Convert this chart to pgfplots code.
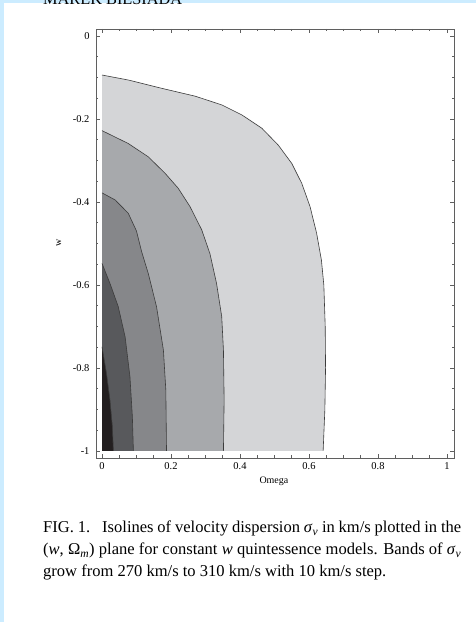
\documentclass[border=0pt]{standalone}
\usepackage{fontspec}
\setmainfont{Liberation Serif}
\usepackage{graphicx}
\usepackage{pgfplots}
\pgfplotsset{compat=1.18}

\definecolor{bandA}{RGB}{212,213,215}
\definecolor{bandB}{RGB}{167,169,172}
\definecolor{bandC}{RGB}{134,135,138}
\definecolor{bandD}{RGB}{88,89,92}
\definecolor{bandE}{RGB}{35,31,32}
\definecolor{isoline}{RGB}{60,60,60}
\definecolor{framegray}{RGB}{95,95,95}
\definecolor{pageblue}{RGB}{204,236,255}

\begin{document}
\begin{tikzpicture}
\useasboundingbox (0,0) rectangle (476bp,622bp);
\fill[white] (0,0) rectangle (476bp,622bp);
\fill[pageblue] (0,0) rectangle (4bp,622bp);
\fill[pageblue] (0,619bp) rectangle (476bp,622bp);
% running head, cut off by the page edge
\node[anchor=base west,inner sep=0pt] at (43bp,617.5bp)
  {\resizebox{139bp}{!}{\fontsize{13}{15}\selectfont MAREK BIESIADA}};

\begin{axis}[
  at={(96bp,164bp)}, anchor=south west,
  scale only axis, width=358bp, height=429bp,
  xmin=-0.0174, xmax=1.0203, ymin=-1.0169, ymax=0.0169,
  xtick={0,0.2,0.4,0.6,0.8,1}, xticklabels={0,0.2,0.4,0.6,0.8,1},
  ytick={-1,-0.8,-0.6,-0.4,-0.2,0}, yticklabels={-1,-0.8,-0.6,-0.4,-0.2,0},
  minor tick num=3, tick align=inside,
  major tick length=4bp, minor tick length=2.5bp,
  axis line style={framegray, line width=0.9bp},
  tick style={framegray, line width=0.7bp},
  ticklabel style={font=\fontsize{10.5}{12}\selectfont},
  xticklabel style={yshift=-1.5bp},
  yticklabel style={xshift=-3bp},
  xlabel={Omega}, ylabel={w},
  xlabel style={at={(axis description cs:0.497,-0.0536)}, anchor=center, font=\fontsize{10}{12}\selectfont},
  ylabel style={at={(axis description cs:-0.1034,0.501)}, anchor=center, rotate=0, font=\fontsize{10}{12}\selectfont},
]
% 270 km/s band
\addplot[fill=bandA, draw=none] coordinates {(0,-1) (0,-0.094) (0.076,-0.106) (0.173,-0.126) (0.270,-0.145) (0.347,-0.166) (0.405,-0.190) (0.463,-0.222) (0.511,-0.263) (0.550,-0.307) (0.579,-0.355) (0.603,-0.411) (0.622,-0.475) (0.636,-0.540) (0.643,-0.600) (0.647,-0.700) (0.648,-0.800) (0.646,-0.900) (0.641,-1)} -- cycle;
\addplot[isoline, line width=0.6bp] coordinates {(0,-0.094) (0.076,-0.106) (0.173,-0.126) (0.270,-0.145) (0.347,-0.166) (0.405,-0.190) (0.463,-0.222) (0.511,-0.263) (0.550,-0.307) (0.579,-0.355) (0.603,-0.411) (0.622,-0.475) (0.636,-0.540) (0.643,-0.600) (0.647,-0.700) (0.648,-0.800) (0.646,-0.900) (0.641,-1)};
% 280 km/s band
\addplot[fill=bandB, draw=none] coordinates {(0,-1) (0,-0.228) (0.076,-0.259) (0.134,-0.291) (0.183,-0.331) (0.221,-0.367) (0.255,-0.411) (0.289,-0.467) (0.313,-0.525) (0.332,-0.596) (0.347,-0.676) (0.352,-0.757) (0.354,-0.877) (0.352,-1)} -- cycle;
\addplot[isoline, line width=0.6bp] coordinates {(0,-0.228) (0.076,-0.259) (0.134,-0.291) (0.183,-0.331) (0.221,-0.367) (0.255,-0.411) (0.289,-0.467) (0.313,-0.525) (0.332,-0.596) (0.347,-0.676) (0.352,-0.757) (0.354,-0.877) (0.352,-1)};
% 290 km/s band
\addplot[fill=bandC, draw=none] coordinates {(0,-1) (0,-0.378) (0.038,-0.395) (0.076,-0.427) (0.100,-0.470) (0.115,-0.520) (0.134,-0.572) (0.158,-0.652) (0.178,-0.757) (0.185,-0.853) (0.187,-1)} -- cycle;
\addplot[isoline, line width=0.6bp] coordinates {(0,-0.378) (0.038,-0.395) (0.076,-0.427) (0.100,-0.470) (0.115,-0.520) (0.134,-0.572) (0.158,-0.652) (0.178,-0.757) (0.185,-0.853) (0.187,-1)};
% 300 km/s band
\addplot[fill=bandD, draw=none] coordinates {(0,-1) (0,-0.548) (0.023,-0.596) (0.047,-0.652) (0.067,-0.725) (0.081,-0.821) (0.088,-0.917) (0.091,-1)} -- cycle;
\addplot[isoline, line width=0.6bp] coordinates {(0,-0.548) (0.023,-0.596) (0.047,-0.652) (0.067,-0.725) (0.081,-0.821) (0.088,-0.917) (0.091,-1)};
% 310 km/s band
\addplot[fill=bandE, draw=none] coordinates {(0,-1) (0,-0.749) (0.013,-0.813) (0.023,-0.877) (0.030,-0.941) (0.033,-1)} -- cycle;
\addplot[isoline, line width=0.6bp] coordinates {(0,-0.749) (0.013,-0.813) (0.023,-0.877) (0.030,-0.941) (0.033,-1)};
\end{axis}

\node[anchor=north west, inner sep=0pt] at (43bp,101bp) {\parbox{418bp}{\fontsize{16.6}{22}\selectfont
FIG. 1.\enspace\ Isolines of velocity dispersion \textit{σ}\textsubscript{\textit{v}} in km/s plotted in the\linebreak
(\textit{w}, Ω\textsubscript{\textit{m}}) plane for constant \textit{w} quintessence models. Bands of \textit{σ}\textsubscript{\textit{v}}\linebreak
grow from 270 km/s to 310 km/s with 10 km/s step.}};
\end{tikzpicture}
\end{document}
